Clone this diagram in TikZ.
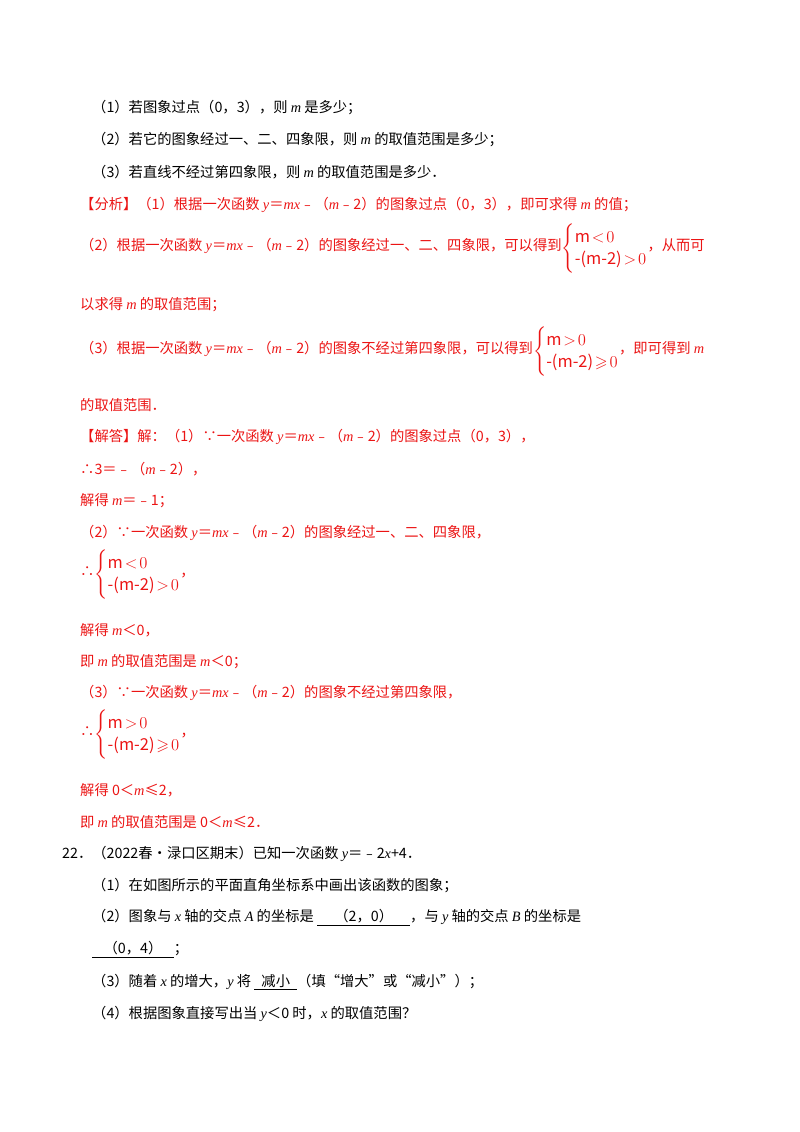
\documentclass[tikz,border=0pt]{standalone}
\usepackage{fontspec}
\setmainfont{Noto Sans CJK SC}
\newfontfamily\lat{Liberation Serif}
\newcommand\vi[1]{{\lat\itshape #1}}
\usepackage{amssymb}
\newcommand\sysA{\raisebox{-0.3ex}{\scalebox{1.15}{$\left\{\renewcommand\arraystretch{1.2}\begin{array}{@{}l@{}}\mbox{m}\!<\!0\\ \mbox{-(m-2)}\!>\!0\end{array}\right.$}}}
\newcommand\sysB{\raisebox{-0.3ex}{\scalebox{1.15}{$\left\{\renewcommand\arraystretch{1.2}\begin{array}{@{}l@{}}\mbox{m}\!>\!0\\ \mbox{-(m-2)}\!\geqslant\!0\end{array}\right.$}}}
\definecolor{ans}{RGB}{235,20,20}
\begin{document}
\begin{tikzpicture}[x=1pt,y=-1pt,
  t/.style={anchor=west,inner sep=0pt,font=\fontsize{14.3}{16}\selectfont},
  r/.style={t,text=ans}]
\useasboundingbox (0,0) rectangle (800,1132);
\node[t] (l1) at (92,108) {（1）若图象过点（0，3），则 \vi{m} 是多少；};
\node[t] (l2) at (92,140) {（2）若它的图象经过一、二、四象限，则 \vi{m} 的取值范围是多少；};
\node[t] (l3) at (92,172) {（3）若直线不经过第四象限，则 \vi{m} 的取值范围是多少．};
\node[r] (a1) at (80,205) {【分析】（1）根据一次函数 \vi{y}＝\vi{mx}﹣（\vi{m}﹣2）的图象过点（0，3），即可求得 \vi{m} 的值；};
\node[r] (a2) at (80,249) {（2）根据一次函数 \vi{y}＝\vi{mx}﹣（\vi{m}﹣2）的图象经过一、二、四象限，可以得到\sysA，从而可};
\node[r] (a3) at (80,305) {以求得 \vi{m} 的取值范围；};
\node[r] (a4) at (80,352) {（3）根据一次函数 \vi{y}＝\vi{mx}﹣（\vi{m}﹣2）的图象不经过第四象限，可以得到\sysB，即可得到 \vi{m}};
\node[r] (a5) at (80,405) {的取值范围．};
\node[r] (b1) at (80,437) {【解答】解：（1）∵一次函数 \vi{y}＝\vi{mx}﹣（\vi{m}﹣2）的图象过点（0，3），};
\node[r] (b2) at (80,469) {∴3＝﹣（\vi{m}﹣2），};
\node[r] (b3) at (80,501) {解得 \vi{m}＝﹣1；};
\node[r] (b4) at (80,533) {（2）∵一次函数 \vi{y}＝\vi{mx}﹣（\vi{m}﹣2）的图象经过一、二、四象限，};
\node[r] (b5) at (80,575) {∴\sysA，};
\node[r] (b6) at (80,630) {解得 \vi{m}＜0，};
\node[r] (b7) at (80,662) {即 \vi{m} 的取值范围是 \vi{m}＜0；};
\node[r] (b8) at (80,693) {（3）∵一次函数 \vi{y}＝\vi{mx}﹣（\vi{m}﹣2）的图象不经过第四象限，};
\node[r] (b9) at (80,735) {∴\sysB，};
\node[r] (b10) at (80,790) {解得 0＜\vi{m}≤2，};
\node[r] (b11) at (80,822) {即 \vi{m} 的取值范围是 0＜\vi{m}≤2．};
\node[t] (q0) at (62,854) {22．（2022春•渌口区期末）已知一次函数 \vi{y}＝﹣2\vi{x}+4．};
\node[t] (q1) at (92,886) {（1）在如图所示的平面直角坐标系中画出该函数的图象；};
\node[t] (q2) at (92,918) {（2）图象与 \vi{x} 轴的交点 \vi{A} 的坐标是 \underline{\hspace{1.2em}（2，0）\hspace{1.2em}}，与 \vi{y} 轴的交点 \vi{B} 的坐标是};
\node[t] (q3) at (92,950) {\underline{\hspace{0.8em}（0，4）\hspace{0.8em}}；};
\node[t] (q4) at (92,982) {（3）随着 \vi{x} 的增大，\vi{y} 将 \underline{\hspace{0.5em}减小\hspace{0.5em}}（填“增大”或“减小”）；};
\node[t] (q5) at (92,1014) {（4）根据图象直接写出当 \vi{y}＜0 时，\vi{x} 的取值范围？};
\end{tikzpicture}
\end{document}
